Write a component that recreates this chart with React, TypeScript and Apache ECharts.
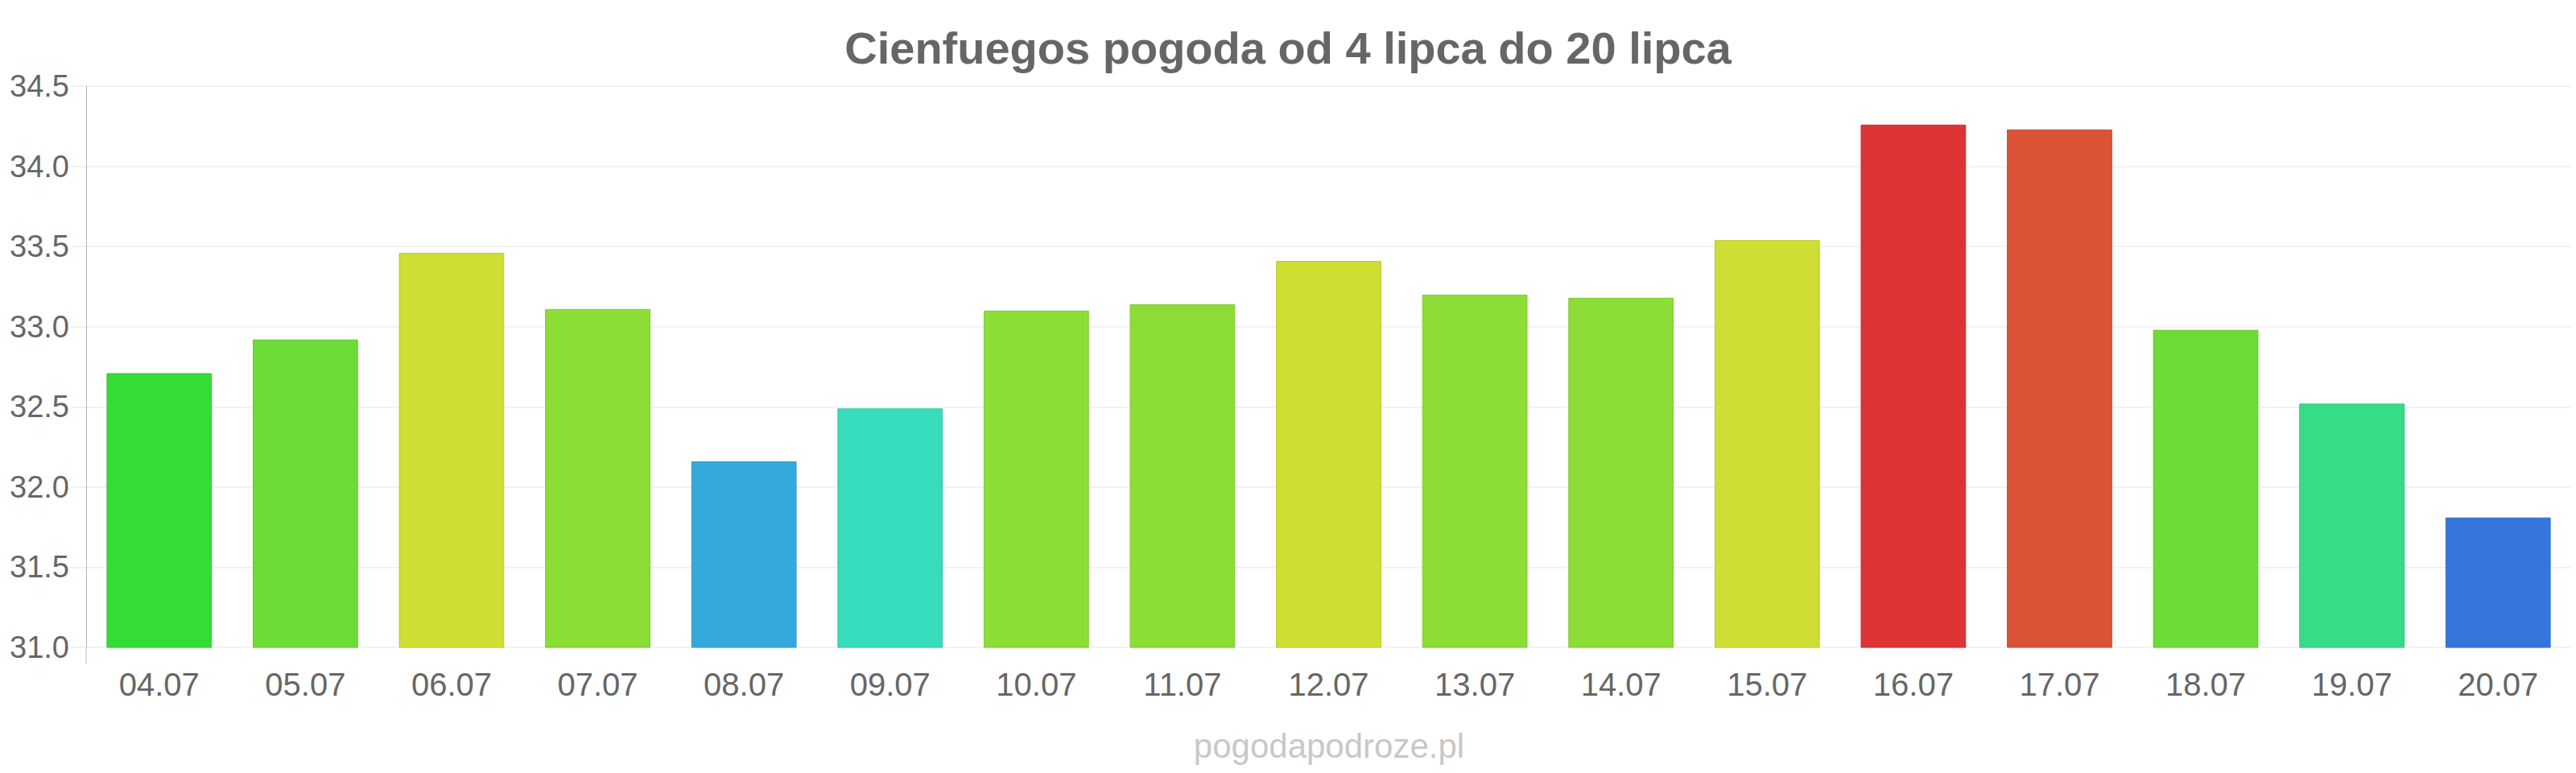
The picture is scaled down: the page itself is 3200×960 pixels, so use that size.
import React, { useEffect, useRef } from "react";
import * as echarts from "echarts";

const TITLE = "Cienfuegos pogoda od 4 lipca do 20 lipca";
const WATERMARK = "pogodapodroze.pl";

const categories = [
  "04.07", "05.07", "06.07", "07.07", "08.07", "09.07", "10.07", "11.07", "12.07",
  "13.07", "14.07", "15.07", "16.07", "17.07", "18.07", "19.07", "20.07",
];

const temperatures = [
  32.71, 32.92, 33.46, 33.11, 32.16, 32.49, 33.1, 33.14, 33.41,
  33.2, 33.18, 33.54, 34.26, 34.23, 32.98, 32.52, 31.81,
];

const barColors = [
  "#36dc36", "#6cdc37", "#cfdd35", "#8cdd36", "#36a9dc", "#36dcbb", "#8cdd36", "#8cdd36", "#cfdd35",
  "#8cdd36", "#8cdd36", "#cfdd35", "#dc3434", "#dc5235", "#6cdc36", "#36dc88", "#3576dc",
];

const Y_MIN = 31;
const Y_MAX = 34.5;
const Y_STEP = 0.5;

function darken(hex: string, f: number): string {
  const n = parseInt(hex.slice(1), 16);
  const r = Math.round(((n >> 16) & 255) * f);
  const g = Math.round(((n >> 8) & 255) * f);
  const b = Math.round((n & 255) * f);
  return "#" + [r, g, b].map((v) => v.toString(16).padStart(2, "0")).join("");
}

const FONT = "'Liberation Sans', Arial, sans-serif";

export default function App() {
  const ref = useRef<HTMLDivElement>(null);

  useEffect(() => {
    if (!ref.current) return;
    const chart = echarts.init(ref.current, undefined, { renderer: "svg" });
    const gridLeft = 107;
    const gridTop = 107;
    const gridBottom = 156;
    chart.setOption({
      animation: false,
      backgroundColor: "#ffffff",
      textStyle: { fontFamily: FONT },
      title: {
        text: TITLE,
        left: "center",
        top: 26,
        textStyle: {
          fontFamily: FONT,
          fontSize: 56,
          fontWeight: "bold",
          color: "#666666",
        },
      },
      grid: {
        left: gridLeft,
        right: 6,
        top: gridTop,
        bottom: gridBottom,
        containLabel: false,
      },
      xAxis: {
        type: "category",
        data: categories,
        axisLine: { show: false },
        axisTick: { show: false },
        axisLabel: {
          fontFamily: FONT,
          fontSize: 40,
          color: "#666666",
          margin: 26,
        },
        splitLine: { show: false },
      },
      yAxis: {
        type: "value",
        min: Y_MIN,
        max: Y_MAX,
        interval: Y_STEP,
        axisLine: { show: true, lineStyle: { color: "#b8b8b8", width: 1 } },
        axisTick: { show: true, length: 19, lineStyle: { color: "#f0f0f0", width: 2 } },
        axisLabel: {
          fontFamily: FONT,
          fontSize: 38,
          color: "#666666",
          margin: 21,
          formatter: (v: number) => v.toFixed(1),
        },
        splitLine: { show: true, lineStyle: { color: "#f2f2f2", width: 2 } },
      },
      series: [
        {
          type: "bar",
          barCategoryGap: "28%",
          data: temperatures.map((v, i) => ({
            value: v,
            itemStyle: {
              color: barColors[i],
              borderColor: darken(barColors[i], 0.9),
              borderWidth: 1,
            },
          })),
        },
      ],
      graphic: [
        {
          type: "line",
          shape: { x1: gridLeft, y1: 960 - gridBottom, x2: gridLeft, y2: 960 - gridBottom + 20 },
          style: { stroke: "#b8b8b8", lineWidth: 1 },
          silent: true,
        },
        {
          type: "text",
          x: 1651,
          y: 926,
          style: {
            text: WATERMARK,
            fontFamily: FONT,
            fontSize: 42,
            fill: "#c8c8c8",
            textAlign: "center",
            textVerticalAlign: "middle",
          },
          silent: true,
        },
      ],
    });
    return () => chart.dispose();
  }, []);

  return (
    <div
      ref={ref}
      style={{ position: "fixed", left: 0, top: 0, width: 3200, height: 960, background: "#fff" }}
    />
  );
}
